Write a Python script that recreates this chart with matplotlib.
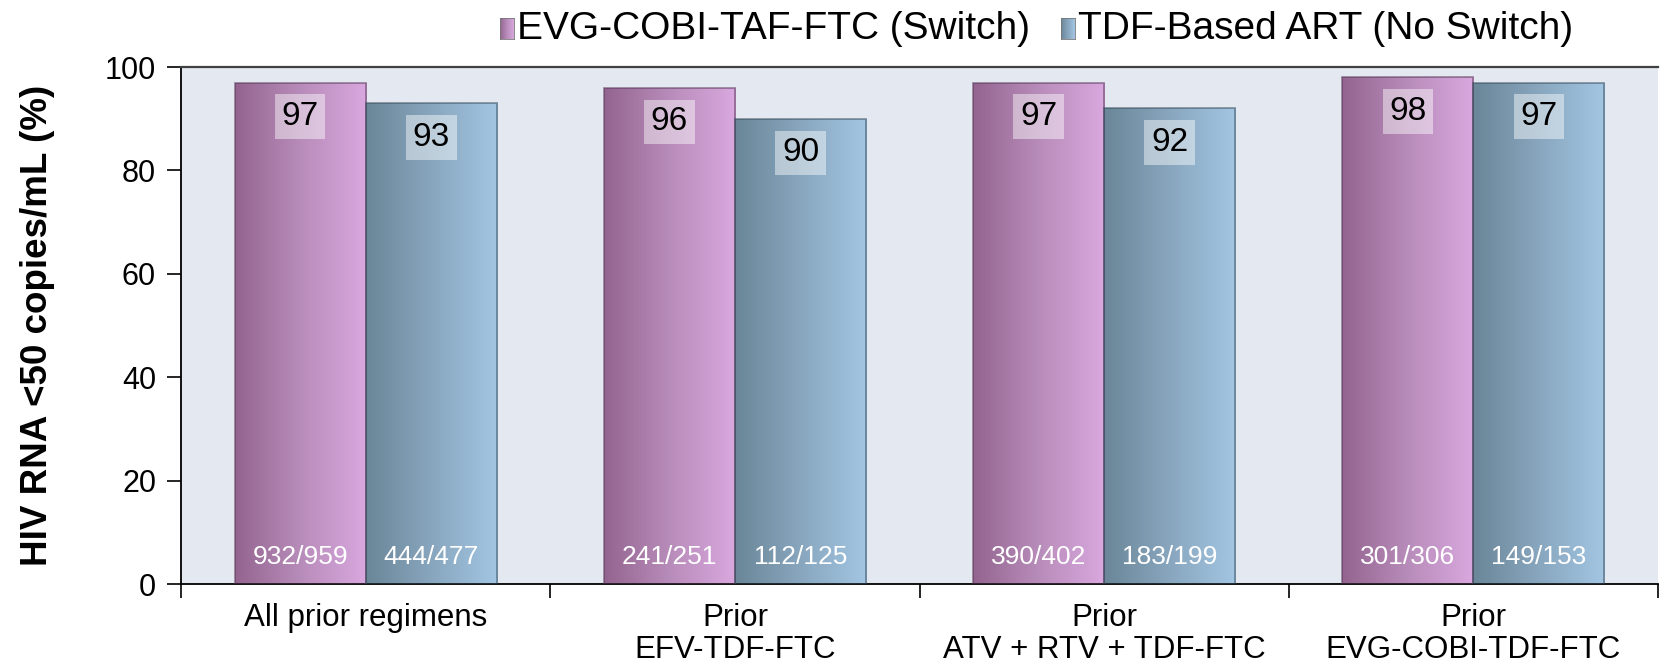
import numpy as np
import matplotlib.pyplot as plt
from matplotlib.colors import LinearSegmentedColormap

# Data
categories = ["All prior regimens", "Prior\nEFV-TDF-FTC",
              "Prior\nATV + RTV + TDF-FTC", "Prior\nEVG-COBI-TDF-FTC"]
switch_pct = [97, 96, 97, 98]
noswitch_pct = [93, 90, 92, 97]
switch_n = ["932/959", "241/251", "390/402", "301/306"]
noswitch_n = ["444/477", "112/125", "183/199", "149/153"]
series_names = ["EVG-COBI-TAF-FTC (Switch)", "TDF-Based ART (No Switch)"]
yticks = [0, 20, 40, 60, 80, 100]

plt.rcParams['font.family'] = ['Liberation Sans', 'DejaVu Sans']

fig = plt.figure(figsize=(16.72, 6.65), dpi=100)
ax = fig.add_axes([0.1083, 0.1218, 0.8833, 0.7774])
ax.set_facecolor('#E4E8F0')

purple = LinearSegmentedColormap.from_list('purple', ['#93648F', '#B88CBA', '#D9A8DF'])
blue = LinearSegmentedColormap.from_list('blue', ['#6A8698', '#88A6BE', '#A3C6E3'])
grad = np.linspace(0, 1, 256).reshape(1, -1)

w = 0.355
x = np.arange(len(categories))


def gradient_bars(xpos, vals, cmap, edge):
    bars = ax.bar(xpos, vals, width=w, color='none', edgecolor=edge,
                  linewidth=1.3, zorder=3)
    for b in bars:
        x0, h, bw = b.get_x(), b.get_height(), b.get_width()
        im = ax.imshow(grad, cmap=cmap, extent=[x0, x0 + bw, 0, h],
                       aspect='auto', zorder=2, interpolation='bicubic')
        im.set_clip_path(b)
    return bars


gradient_bars(x - w / 2, switch_pct, purple, (0.35, 0.22, 0.35, 0.55))
gradient_bars(x + w / 2, noswitch_pct, blue, (0.22, 0.30, 0.36, 0.55))

ax.set_xlim(-0.5, 3.5)
ax.set_ylim(0, 100)

# Value labels near top of bars and counts at the base
for xi, v, n in zip(x - w / 2, switch_pct, switch_n):
    ax.text(xi, v - 6.6, str(v), ha='center', va='center', fontsize=24, zorder=5,
            bbox=dict(boxstyle='square,pad=0.2', fc=(1, 1, 1, 0.45), ec='none'))
    ax.text(xi, 5.2, n, ha='center', va='center', fontsize=19,
            color='white', zorder=5)
for xi, v, n in zip(x + w / 2, noswitch_pct, noswitch_n):
    ax.text(xi, v - 6.6, str(v), ha='center', va='center', fontsize=24, zorder=5,
            bbox=dict(boxstyle='square,pad=0.2', fc=(1, 1, 1, 0.45), ec='none'))
    ax.text(xi, 5.2, n, ha='center', va='center', fontsize=19,
            color='white', zorder=5)

# Axes styling
ax.set_yticks(yticks)
ax.set_yticklabels([str(t) for t in yticks], fontsize=22)
ax.tick_params(axis='y', direction='out', length=10, width=1.2, pad=8)
ax.set_xticks([-0.5, 0.5, 1.5, 2.5, 3.5])
ax.set_xticklabels([])
ax.tick_params(axis='x', which='major', direction='out', length=10, width=1.2)
ax.set_xticks(x, minor=True)
ax.set_xticklabels(categories, minor=True, fontsize=22.5, linespacing=1.05)
ax.tick_params(axis='x', which='minor', length=0, pad=14)

for s in ['left', 'bottom']:
    ax.spines[s].set_color('black')
    ax.spines[s].set_linewidth(1.3)
ax.spines['top'].set_color('#404040')
ax.spines['top'].set_linewidth(1.6)
ax.spines['right'].set_visible(False)

ax.set_ylabel("HIV RNA <50 copies/mL (%)", fontsize=26.5, fontweight='bold', labelpad=36)

# Legend drawn across the top
W, H = 1672, 665
legend_items = [(500, purple), (1061, blue)]
for (px, cmap), name in zip(legend_items, series_names):
    lax = fig.add_axes([px / W, 1 - 39 / H, 14 / W, 21 / H])
    lax.imshow(grad, cmap=cmap, aspect='auto')
    lax.set_xticks([])
    lax.set_yticks([])
    for sp in lax.spines.values():
        sp.set_color('#777777')
        sp.set_linewidth(0.6)
    fig.text((px + 17) / W, 1 - 29 / H, name, fontsize=28, va='center', ha='left')

fig.savefig('out.png', dpi=100)
